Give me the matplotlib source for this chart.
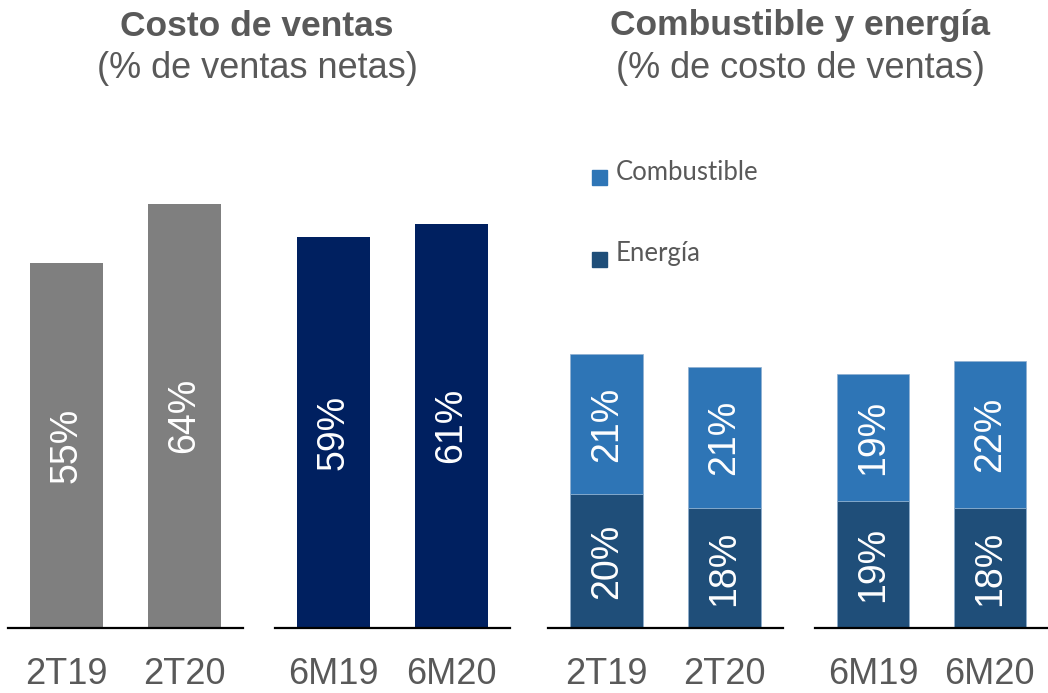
import matplotlib.pyplot as plt
from matplotlib.patches import Rectangle

# data
labels_q = ['2T19', '2T20']
labels_s = ['6M19', '6M20']
costo_q = [55, 64]
costo_s = [59, 61]
energia_q = [20, 18]
energia_s = [19, 18]
combustible_q = [21, 21]
combustible_s = [19, 22]

gray = '#7f7f7f'
navy = '#002060'
c_comb = '#2e75b6'
c_ener = '#1f4e79'
txt = '#595959'

plt.rcParams['font.family'] = ['Liberation Sans', 'DejaVu Sans']

W, H = 1048, 693
fig = plt.figure(figsize=(W / 100, H / 100), dpi=100)


def make_ax(x0, x1, top_px):
    base = 628
    return fig.add_axes([x0 / W, (H - base) / H, (x1 - x0) / W, (base - top_px) / H])


def style(ax, names):
    ax.set_xlim(-0.5, 1.5)
    ax.set_ylim(0, 70)
    for s in ['left', 'right', 'top']:
        ax.spines[s].set_visible(False)
    ax.spines['bottom'].set_linewidth(1.6)
    ax.spines['bottom'].set_color('black')
    ax.set_yticks([])
    ax.set_xticks([0, 1])
    ax.set_xticklabels(names, fontsize=26, color=txt)
    ax.tick_params(axis='x', length=0, pad=21)


def bar_labels(ax, bars, bottoms, vals):
    for b, bot, v in zip(bars, bottoms, vals):
        ax.text(b.get_x() + b.get_width() / 2, bot + v / 2, f'{v}%', rotation=90,
                ha='center', va='center', color='white', fontsize=27)


w = 0.62
# left panel
ax1 = make_ax(8, 243, 628 - 70 * 6.63)
bars = ax1.bar([0, 1], costo_q, width=w, color=gray)
bar_labels(ax1, bars, [0, 0], costo_q)
style(ax1, labels_q)

ax2 = make_ax(275, 510, 628 - 70 * 6.63)
bars = ax2.bar([0, 1], costo_s, width=w, color=navy)
bar_labels(ax2, bars, [0, 0], costo_s)
style(ax2, labels_s)

# right panel
for (x0, x1), ener, comb, names in [((548, 783), energia_q, combustible_q, labels_q),
                                     ((815, 1048), energia_s, combustible_s, labels_s)]:
    ax = make_ax(x0, x1, 628 - 70 * 6.68)
    b1 = ax.bar([0, 1], ener, width=w, color=c_ener, edgecolor='#8fb0d0', linewidth=0.5)
    b2 = ax.bar([0, 1], comb, bottom=ener, width=w, color=c_comb, edgecolor='#8fb0d0', linewidth=0.5)
    bar_labels(ax, b1, [0, 0], ener)
    bar_labels(ax, b2, ener, comb)
    style(ax, names)

# titles
fig.text(257 / W, 1 - 26 / H, 'Costo de ventas', ha='center', va='center',
         fontsize=25.5, fontweight='bold', color=txt)
fig.text(257 / W, 1 - 68 / H, '(% de ventas netas)', ha='center', va='center',
         fontsize=26, color=txt)
fig.text(800 / W, 1 - 26 / H, 'Combustible y energía', ha='center', va='center',
         fontsize=25.5, fontweight='bold', color=txt)
fig.text(800 / W, 1 - 68 / H, '(% de costo de ventas)', ha='center', va='center',
         fontsize=26, color=txt)

# legend
for y, name, col in [(177, 'Combustible', c_comb), (259, 'Energía', c_ener)]:
    fig.patches.append(Rectangle((592 / W, 1 - (y + 8) / H), 15 / W, 15 / H,
                                 transform=fig.transFigure, color=col))
    fig.text(616 / W, 1 - (y - 5) / H, name, ha='left', va='center',
             fontsize=18.5, color=txt, family=['Lato', 'DejaVu Sans'])

fig.savefig('out.png', dpi=100)
